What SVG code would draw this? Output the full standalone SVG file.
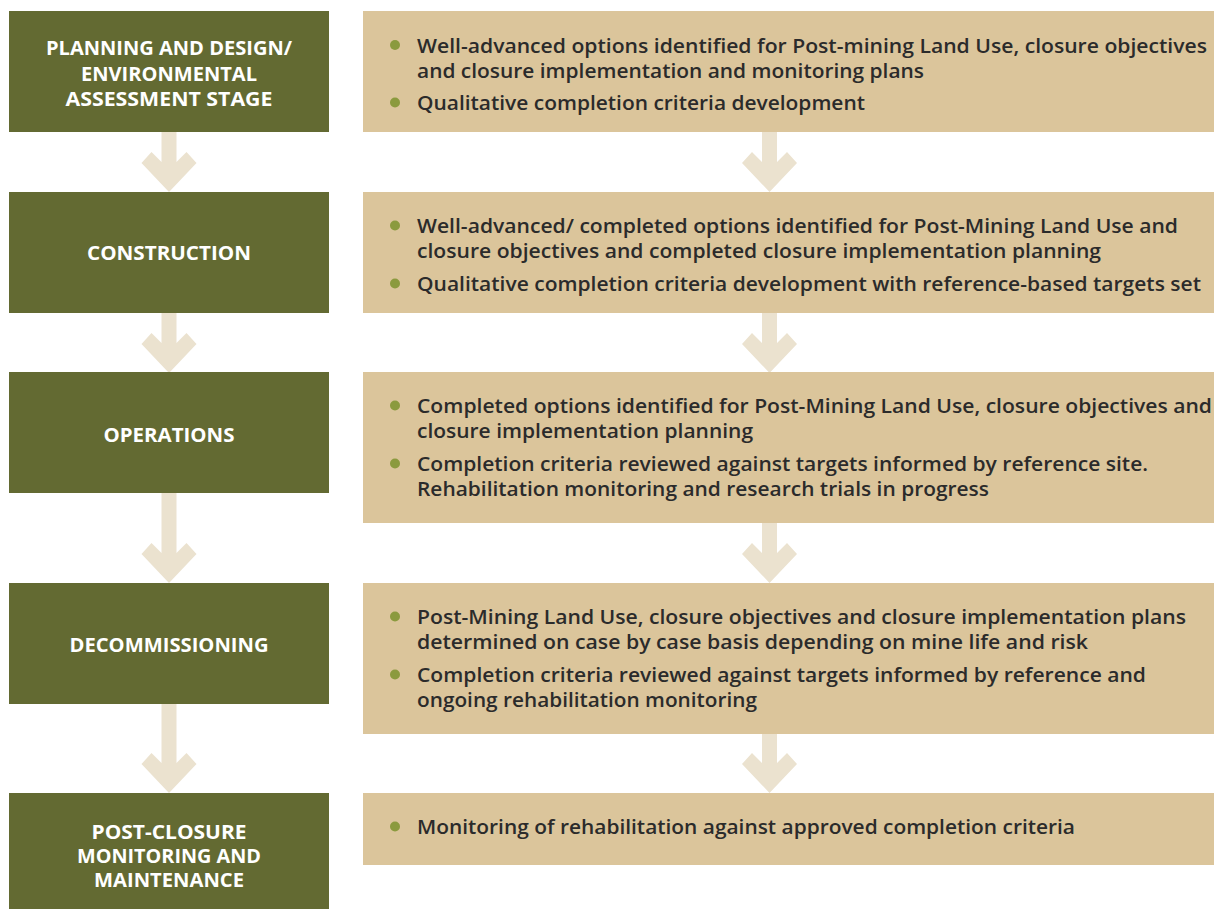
<svg xmlns="http://www.w3.org/2000/svg" width="1214" height="909" viewBox="0 0 1214 909">
<defs>
<style>
.stage{fill:#636a32}
.info{fill:#dbc59b}
.arrow{fill:#ebe2cf}
.lbl{font-family:"Open Sans","Liberation Sans",sans-serif;font-weight:700;font-size:19px;fill:#ffffff;text-anchor:middle}
.txt{font-family:"Open Sans","Liberation Sans",sans-serif;font-weight:600;font-size:19px;fill:#2b2b2b}
.dot{fill:#8b9a3e}
</style>
</defs>
<rect width="1214" height="909" fill="#ffffff"/>
<g id="connectors" class="arrow">
<path d="M161.5,132 L176.5,132 L176.5,162 L186.5,152 L196.5,163 L169,192 L141.5,163 L151.5,152 L161.5,162 Z"/>
<path d="M161.5,313 L176.5,313 L176.5,343 L186.5,333 L196.5,344 L169,373 L141.5,344 L151.5,333 L161.5,343 Z"/>
<path d="M161.5,493 L176.5,493 L176.5,553 L186.5,543 L196.5,554 L169,583 L141.5,554 L151.5,543 L161.5,553 Z"/>
<path d="M161.5,704 L176.5,704 L176.5,763 L186.5,753 L196.5,764 L169,793 L141.5,764 L151.5,753 L161.5,763 Z"/>
<path d="M762,132 L777,132 L777,162 L787,152 L797,163 L769.5,192 L742,163 L752,152 L762,162 Z"/>
<path d="M762,313 L777,313 L777,343 L787,333 L797,344 L769.5,373 L742,344 L752,333 L762,343 Z"/>
<path d="M762,523 L777,523 L777,553 L787,543 L797,554 L769.5,583 L742,554 L752,543 L762,553 Z"/>
<path d="M762,734 L777,734 L777,763 L787,753 L797,764 L769.5,793 L742,764 L752,753 L762,763 Z"/>
</g>
<g id="stage1">
<rect class="stage" x="9" y="11" width="320" height="121"/>
<text class="lbl" x="169" y="55" textLength="246" lengthAdjust="spacingAndGlyphs">PLANNING AND DESIGN/</text>
<text class="lbl" x="169" y="81" textLength="176" lengthAdjust="spacingAndGlyphs">ENVIRONMENTAL</text>
<text class="lbl" x="169" y="106" textLength="207" lengthAdjust="spacingAndGlyphs">ASSESSMENT STAGE</text>
</g>
<g id="stage2">
<rect class="stage" x="9" y="192" width="320" height="121"/>
<text class="lbl" x="169" y="260" textLength="164" lengthAdjust="spacingAndGlyphs">CONSTRUCTION</text>
</g>
<g id="stage3">
<rect class="stage" x="9" y="372" width="320" height="121"/>
<text class="lbl" x="169" y="442" textLength="131" lengthAdjust="spacingAndGlyphs">OPERATIONS</text>
</g>
<g id="stage4">
<rect class="stage" x="9" y="583" width="320" height="121"/>
<text class="lbl" x="169" y="652" textLength="199" lengthAdjust="spacingAndGlyphs">DECOMMISSIONING</text>
</g>
<g id="stage5">
<rect class="stage" x="9" y="793" width="320" height="116"/>
<text class="lbl" x="169" y="839" textLength="155" lengthAdjust="spacingAndGlyphs">POST-CLOSURE</text>
<text class="lbl" x="169" y="863" textLength="184" lengthAdjust="spacingAndGlyphs">MONITORING AND</text>
<text class="lbl" x="169" y="887" textLength="150" lengthAdjust="spacingAndGlyphs">MAINTENANCE</text>
</g>
<g id="info1">
<rect class="info" x="363" y="11" width="851" height="121"/>
<circle class="dot" cx="395" cy="45" r="5"/>
<circle class="dot" cx="395" cy="102.5" r="5"/>
<text class="txt" x="417" y="52.5" textLength="790" lengthAdjust="spacingAndGlyphs">Well-advanced options identified for Post-mining Land Use, closure objectives</text>
<text class="txt" x="417" y="77.5" textLength="507" lengthAdjust="spacingAndGlyphs">and closure implementation and monitoring plans</text>
<text class="txt" x="417" y="110" textLength="448" lengthAdjust="spacingAndGlyphs">Qualitative completion criteria development</text>
</g>
<g id="info2">
<rect class="info" x="363" y="192" width="851" height="121"/>
<circle class="dot" cx="395" cy="225.5" r="5"/>
<circle class="dot" cx="395" cy="283.5" r="5"/>
<text class="txt" x="417" y="233" textLength="761" lengthAdjust="spacingAndGlyphs">Well-advanced/ completed options identified for Post-Mining Land Use and</text>
<text class="txt" x="417" y="258" textLength="684" lengthAdjust="spacingAndGlyphs">closure objectives and completed closure implementation planning</text>
<text class="txt" x="417" y="291" textLength="784" lengthAdjust="spacingAndGlyphs">Qualitative completion criteria development with reference-based targets set</text>
</g>
<g id="info3">
<rect class="info" x="363" y="372" width="851" height="151"/>
<circle class="dot" cx="395" cy="405.5" r="5"/>
<circle class="dot" cx="395" cy="463.5" r="5"/>
<text class="txt" x="417" y="413" textLength="795" lengthAdjust="spacingAndGlyphs">Completed options identified for Post-Mining Land Use, closure objectives and</text>
<text class="txt" x="417" y="438" textLength="336" lengthAdjust="spacingAndGlyphs">closure implementation planning</text>
<text class="txt" x="417" y="471" textLength="731" lengthAdjust="spacingAndGlyphs">Completion criteria reviewed against targets informed by reference site.</text>
<text class="txt" x="417" y="496" textLength="572" lengthAdjust="spacingAndGlyphs">Rehabilitation monitoring and research trials in progress</text>
</g>
<g id="info4">
<rect class="info" x="363" y="583" width="851" height="151"/>
<circle class="dot" cx="395" cy="616.5" r="5"/>
<circle class="dot" cx="395" cy="674.5" r="5"/>
<text class="txt" x="417" y="624" textLength="769" lengthAdjust="spacingAndGlyphs">Post-Mining Land Use, closure objectives and closure implementation plans</text>
<text class="txt" x="417" y="649" textLength="671" lengthAdjust="spacingAndGlyphs">determined on case by case basis depending on mine life and risk</text>
<text class="txt" x="417" y="682" textLength="729" lengthAdjust="spacingAndGlyphs">Completion criteria reviewed against targets informed by reference and</text>
<text class="txt" x="417" y="707" textLength="340" lengthAdjust="spacingAndGlyphs">ongoing rehabilitation monitoring</text>
</g>
<g id="info5">
<rect class="info" x="363" y="793" width="851" height="72"/>
<circle class="dot" cx="395" cy="826.5" r="5"/>
<text class="txt" x="417" y="834" textLength="658" lengthAdjust="spacingAndGlyphs">Monitoring of rehabilitation against approved completion criteria</text>
</g>
</svg>
